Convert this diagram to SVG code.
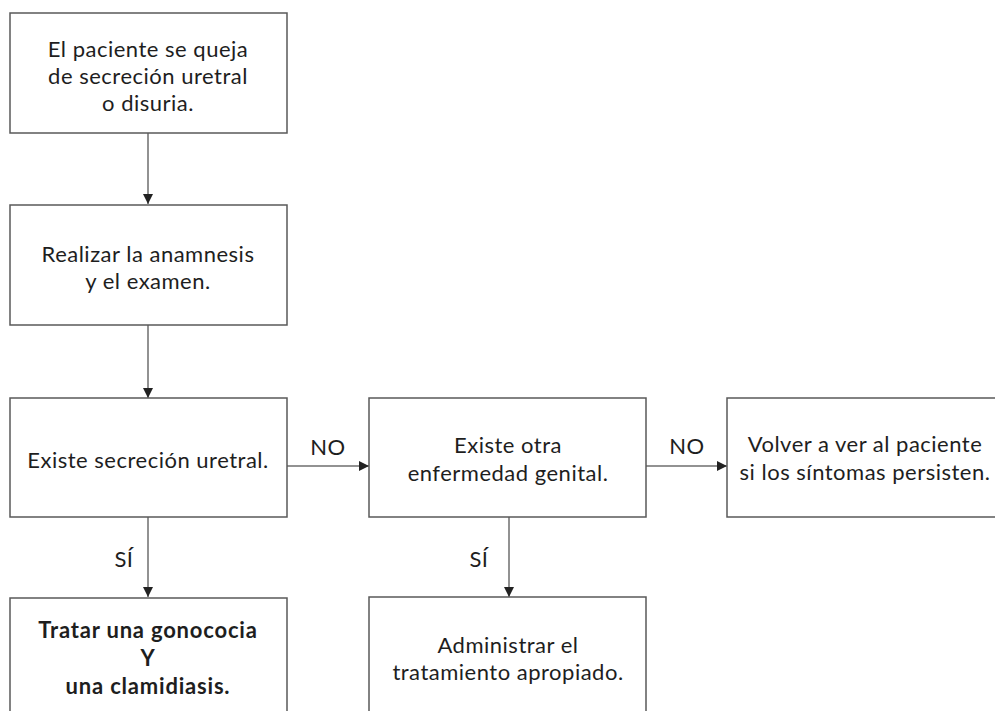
<svg xmlns="http://www.w3.org/2000/svg" width="995" height="711" viewBox="0 0 995 711">
<style>
.box{fill:#fff;stroke:#595959;stroke-width:1.5}
.t{font-family:Lato,"Open Sans","Liberation Sans",sans-serif;font-size:22px;letter-spacing:0.5px;fill:#1e1e1e;text-anchor:middle}
.b{font-weight:bold;letter-spacing:0.8px}
.c{stroke:#6e6e6e;stroke-width:1.5;fill:none}
</style>
<defs>
<marker id="ah" viewBox="0 0 10 10" refX="10" refY="5" markerWidth="10" markerHeight="10" markerUnits="userSpaceOnUse" orient="auto">
<path d="M0,0 L10,5 L0,10 z" fill="#222"/>
</marker>
</defs>
<rect width="995" height="711" fill="#fff"/>
<g id="connectors">
<line class="c" x1="148" y1="133" x2="148" y2="204" marker-end="url(#ah)"/>
<line class="c" x1="148" y1="325" x2="148" y2="398" marker-end="url(#ah)"/>
<line class="c" x1="148" y1="517" x2="148" y2="597" marker-end="url(#ah)"/>
<line class="c" x1="287" y1="466" x2="369" y2="466" marker-end="url(#ah)"/>
<line class="c" x1="646" y1="466" x2="727" y2="466" marker-end="url(#ah)"/>
<line class="c" x1="509" y1="517" x2="509" y2="597" marker-end="url(#ah)"/>
<text class="t" x="328" y="455">NO</text>
<text class="t" x="687" y="454">NO</text>
<text class="t" x="124" y="567">SÍ</text>
<text class="t" x="479" y="567">SÍ</text>
</g>
<g id="n1">
<rect class="box" x="10" y="13" width="277" height="120"/>
<text class="t" x="148" y="57">El paciente se queja</text>
<text class="t" x="148" y="84">de secreción uretral</text>
<text class="t" x="148" y="111">o disuria.</text>
</g>
<g id="n2">
<rect class="box" x="10" y="205" width="277" height="120"/>
<text class="t" x="148" y="262">Realizar la anamnesis</text>
<text class="t" x="148" y="289">y el examen.</text>
</g>
<g id="n3">
<rect class="box" x="10" y="398" width="277" height="119"/>
<text class="t" x="148" y="468">Existe secreción uretral.</text>
</g>
<g id="n4">
<rect class="box" x="10" y="598" width="277" height="130"/>
<text class="t b" x="148" y="638">Tratar una gonococia</text>
<text class="t b" x="148" y="666">Y</text>
<text class="t b" x="148" y="694">una clamidiasis.</text>
</g>
<g id="n5">
<rect class="box" x="369" y="398" width="277" height="119"/>
<text class="t" x="508" y="453">Existe otra</text>
<text class="t" x="508" y="481">enfermedad genital.</text>
</g>
<g id="n6">
<rect class="box" x="727" y="398" width="290" height="119"/>
<text class="t" x="865" y="452">Volver a ver al paciente</text>
<text class="t" x="865" y="480">si los síntomas persisten.</text>
</g>
<g id="n7">
<rect class="box" x="369" y="597" width="277" height="130"/>
<text class="t" x="508" y="653">Administrar el</text>
<text class="t" x="508" y="680">tratamiento apropiado.</text>
</g>
</svg>
